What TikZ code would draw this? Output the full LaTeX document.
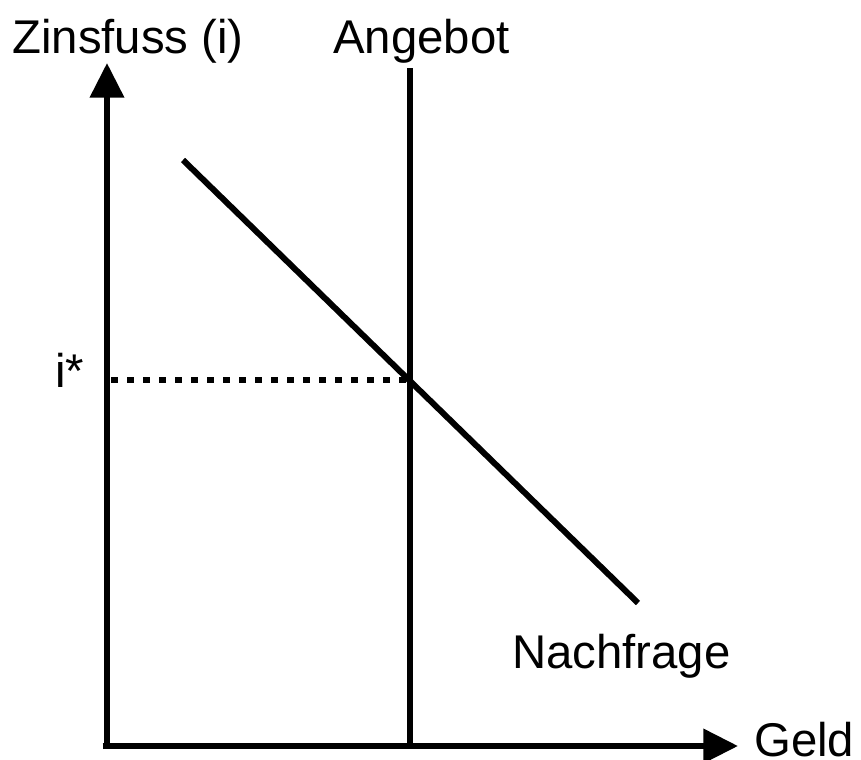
\documentclass[tikz,border=0pt]{standalone}
\usepackage{fontspec}
\setmainfont{Liberation Sans}
\usetikzlibrary{arrows.meta}
\begin{document}
\begin{tikzpicture}[x=0.75pt,y=-0.75pt,
  axis/.style={line width=4.5pt,-{Triangle[length=26pt,width=25pt]}},
  curve/.style={line width=4.5pt},
  guide/.style={line width=4.5pt,dash pattern=on 5.5pt off 6.5pt},
  lbl/.style={inner sep=0pt,anchor=base west,font=\fontsize{35.5}{42}\selectfont}]
\useasboundingbox (0,0) rectangle (861,760);
\coordinate (O) at (107,746);
\coordinate (ytip) at (107,63);
\coordinate (xtip) at (738,746);
\coordinate (Stop) at (410,68);
\coordinate (Sbot) at (410,746);
\coordinate (D1) at (183,160);
\coordinate (D2) at (638,603);
\coordinate (Yi) at (107,380);
\coordinate (E) at (410,380);
\draw[curve] (Stop) -- (Sbot);
\draw[curve] (D1) -- (D2);
\draw[guide] ([xshift=3pt]Yi) -- (E);
\draw[axis] (O) -- (ytip);
\draw[axis] ([xshift=-3.375pt]O) -- (xtip);
\node[lbl] (zl) at (12,53) {Zinsfuss (i)};
\node[lbl] (al) at (333,53) {Angebot};
\node[lbl] (il) at (55,387) {i*};
\node[lbl] (nl) at (512,668) {Nachfrage};
\node[lbl] (gl) at (754,756) {Geld};
\end{tikzpicture}
\end{document}
